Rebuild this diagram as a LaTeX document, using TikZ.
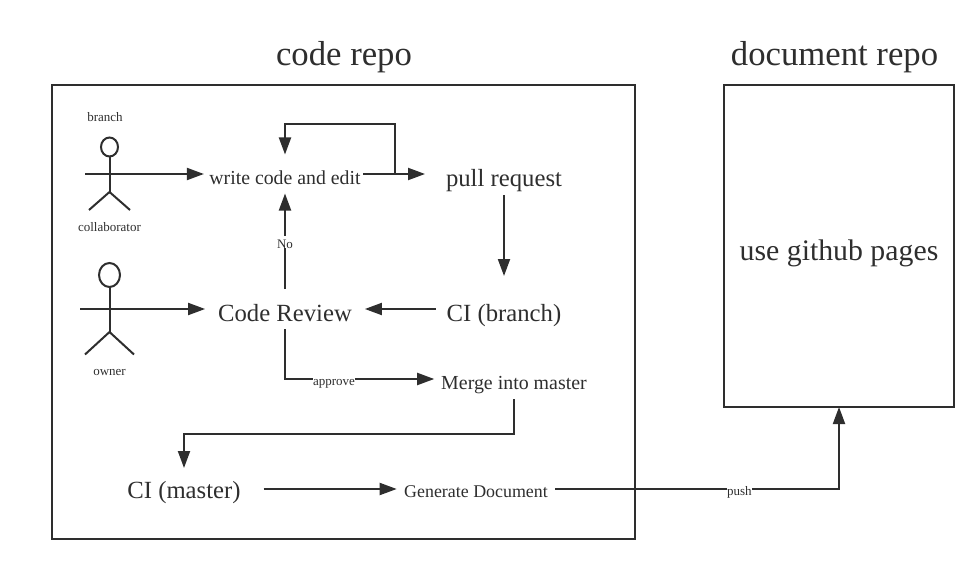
\documentclass[tikz,border=0pt]{standalone}
\usepackage{fontspec}
\setmainfont{Liberation Serif}
\usepackage{xcolor}
\usetikzlibrary{positioning,arrows.meta}
\definecolor{linegray}{HTML}{2E2E2E}
\tikzset{
  % --- repository frames ---
  repobox/.style={draw=linegray, line width=2pt, outer sep=0pt, inner sep=0pt},
  repotitle/.style={text=linegray, font=\fontsize{34.7}{40}\selectfont},
  % --- step labels, three text sizes ---
  stepbig/.style={text=linegray, inner ysep=0pt, outer sep=0pt, font=\fontsize{24.7}{30}\selectfont},
  stepmid/.style={text=linegray, inner ysep=0pt, outer sep=0pt, font=\fontsize{19}{24}\selectfont},
  smalltag/.style={text=linegray, inner sep=0pt, font=\fontsize{13}{16}\selectfont},
  edgetag/.style={smalltag, fill=white, text height=12pt, text depth=0pt, inner xsep=0.5pt},
  % --- connectors ---
  flow/.style={-{Triangle[length=17pt,width=12pt]}, line width=2pt, draw=linegray},
  actor/.style={line width=2pt, draw=linegray},
}
\begin{document}
\begin{tikzpicture}[x=1pt,y=-1pt]
  \useasboundingbox (0,0) rectangle (979,564);

  % --- the two repositories ---
  \node[repobox, minimum width=583pt, minimum height=454pt] (coderepo) at (343.5,312) {};
  \node[repobox, minimum width=230pt, minimum height=322pt] (docrepo) at (839,246) {};
  \node[repotitle] (codetitle) at (344,57) {code repo};
  \node[repotitle] (doctitle) at (834.5,57) {document repo};
  \node[text=linegray, font=\fontsize{29.8}{36}\selectfont] (pages) at (839,253.5) {use github pages};

  % --- collaborator figure ---
  \node[smalltag] (branch) at (105,117) {branch};
  \node[smalltag] (collab) at (109.5,227) {collaborator};
  \draw[actor] (109.5,147) circle[x radius=8.5, y radius=9.5];
  \draw[actor] (109.5,156.5) -- (109.5,192);
  \draw[actor] (89,210) -- (109.5,192) -- (130,210);
  \coordinate (collabarm) at (85,174);

  % --- owner figure ---
  \node[smalltag] (owner) at (109.5,372.5) {owner};
  \draw[actor] (109.5,275) circle[x radius=10.5, y radius=12];
  \draw[actor] (109.5,287) -- (109.5,332);
  \draw[actor] (85,354.5) -- (109.5,332) -- (134,354.5);
  \coordinate (ownerarm) at (80,309);

  % --- steps ---
  \node[stepmid, inner xsep=5.5pt, font=\fontsize{19.8}{24}\selectfont, text height=30pt, text depth=9pt] (write) at (285,174) {write code and edit};
  \node[stepbig, inner xsep=21pt, text height=33pt, text depth=9pt] (pull) at (504,174) {pull request};
  \node[stepbig, inner xsep=13pt, text height=32pt, text depth=8pt] (review) at (285,309) {Code Review};
  \node[stepbig, inner xsep=11pt, text height=45pt, text depth=21pt] (cibranch) at (504,309) {CI (branch)};
  \node[stepmid, inner xsep=7pt, font=\fontsize{19.9}{24}\selectfont, text height=30pt, text depth=10pt] (merge) at (514,379) {Merge into master};
  \node[stepbig, inner xsep=23pt, text height=30pt, text depth=12pt] (cimaster) at (184,489) {CI (master)};
  \node[stepmid, inner xsep=7.5pt, font=\fontsize{17.9}{24}\selectfont, text height=22pt, text depth=6pt] (generate) at (476,489) {Generate Document};
  \coordinate (loopstart) at (395,174);

  % --- flows ---
  \draw[flow] (collabarm) -- (write.west);
  \draw[flow] (ownerarm) -- (review.west);
  \draw[flow, shorten <=-3pt] (write.east) -- (pull.west);
  \draw[flow] (loopstart) -- (395,124) -| (write.north);
  \draw[flow] (pull.south) -- (cibranch.north);
  \draw[flow] (cibranch.west) -- (review.east);
  \draw[flow] (review.north) -- node[edgetag, pos=0.49] (notag) {No} (write.south);
  \draw[flow] (review.south) |- node[edgetag, pos=0.664] (approvetag) {approve} (merge.west);
  \draw[flow] (merge.south) -- (514,434) -| (cimaster.north);
  \draw[flow] (cimaster.east) -- (generate.west);
  \draw[flow] (generate.east) -| node[edgetag, pos=0.3245] (pushtag) {push} (docrepo.south);
\end{tikzpicture}
\end{document}
